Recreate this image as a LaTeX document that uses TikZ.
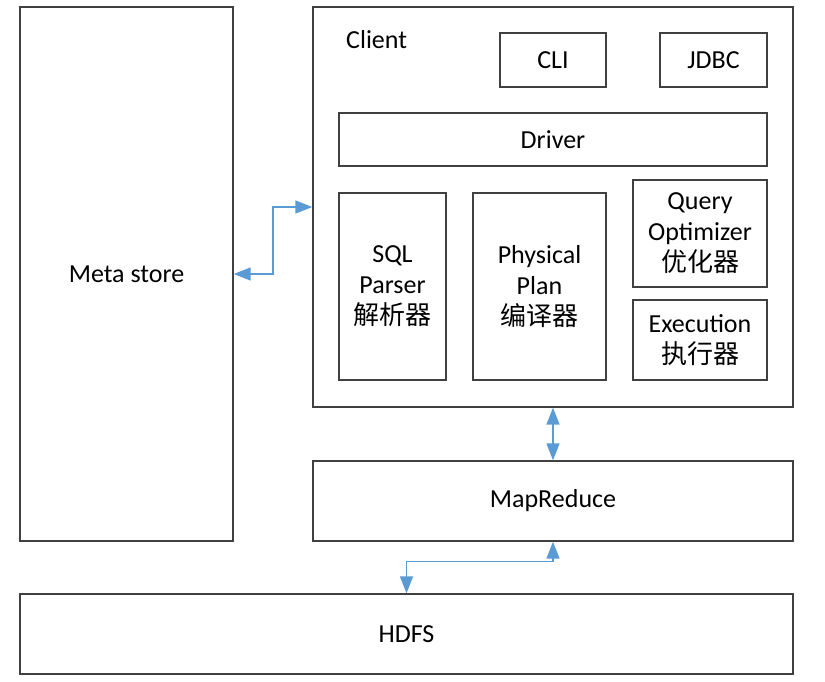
\documentclass[tikz,border=0pt]{standalone}
\usepackage{fontspec}
\setmainfont{Carlito}
\newfontfamily\cjk{Noto Sans CJK SC}
\usetikzlibrary{arrows.meta,calc}
\definecolor{boxline}{HTML}{404040}
\definecolor{arrowblue}{HTML}{5B9BD5}
\begin{document}
\begin{tikzpicture}[x=1pt,y=-1pt,
  box/.style={draw=boxline,line width=1.4pt,rectangle,inner sep=0pt,align=center,
    font=\fontsize{26}{31}\selectfont},
  conn/.style={draw=arrowblue,line width=1.5pt,{Triangle[length=17pt,width=13pt]}-{Triangle[length=17pt,width=13pt]}}]
\useasboundingbox[fill=white] (0,0) rectangle (825,681);
% outer boxes
\node[box,minimum width=213pt,minimum height=534pt] (meta) at (126.5,274) {Meta store};
\node[box,minimum width=480pt,minimum height=400pt] (client) at (553,207) {};
\node[anchor=west,inner sep=0pt,font=\fontsize{26}{31}\selectfont] (clientlbl) at (346,40) {Client};
\node[box,minimum width=106pt,minimum height=54pt] (cli) at (553,60) {CLI};
\node[box,minimum width=107pt,minimum height=54pt] (jdbc) at (713.5,60) {JDBC};
\node[box,minimum width=428pt,minimum height=53pt] (driver) at (553,139.5) {Driver};
\node[box,minimum width=107pt,minimum height=187pt] (parser) at (392.5,286.5) {SQL\\Parser\\{\cjk 解析器}};
\node[box,minimum width=133pt,minimum height=187pt] (plan) at (539.5,286.5) {Physical\\Plan\\{\cjk 编译器}};
\node[box,minimum width=134pt,minimum height=107pt] (opt) at (700,233.5) {Query\\Optimizer\\{\cjk 优化器}};
\node[box,minimum width=134pt,minimum height=80pt] (exec) at (700,340) {Execution\\{\cjk 执行器}};
\node[box,minimum width=480pt,minimum height=80pt] (mapred) at (553,501) {MapReduce};
\node[box,minimum width=773pt,minimum height=80pt] (hdfs) at (406.5,634) {HDFS};
% connectors
\draw[conn] (meta.east) -| ($(meta.east)!0.5!(client.west)$) |- (client.west);
\draw[conn] (client.south) -- (mapred.north);
\draw[conn] (mapred.south) -- ++(0,20) -| (hdfs.north);
\end{tikzpicture}
\end{document}
